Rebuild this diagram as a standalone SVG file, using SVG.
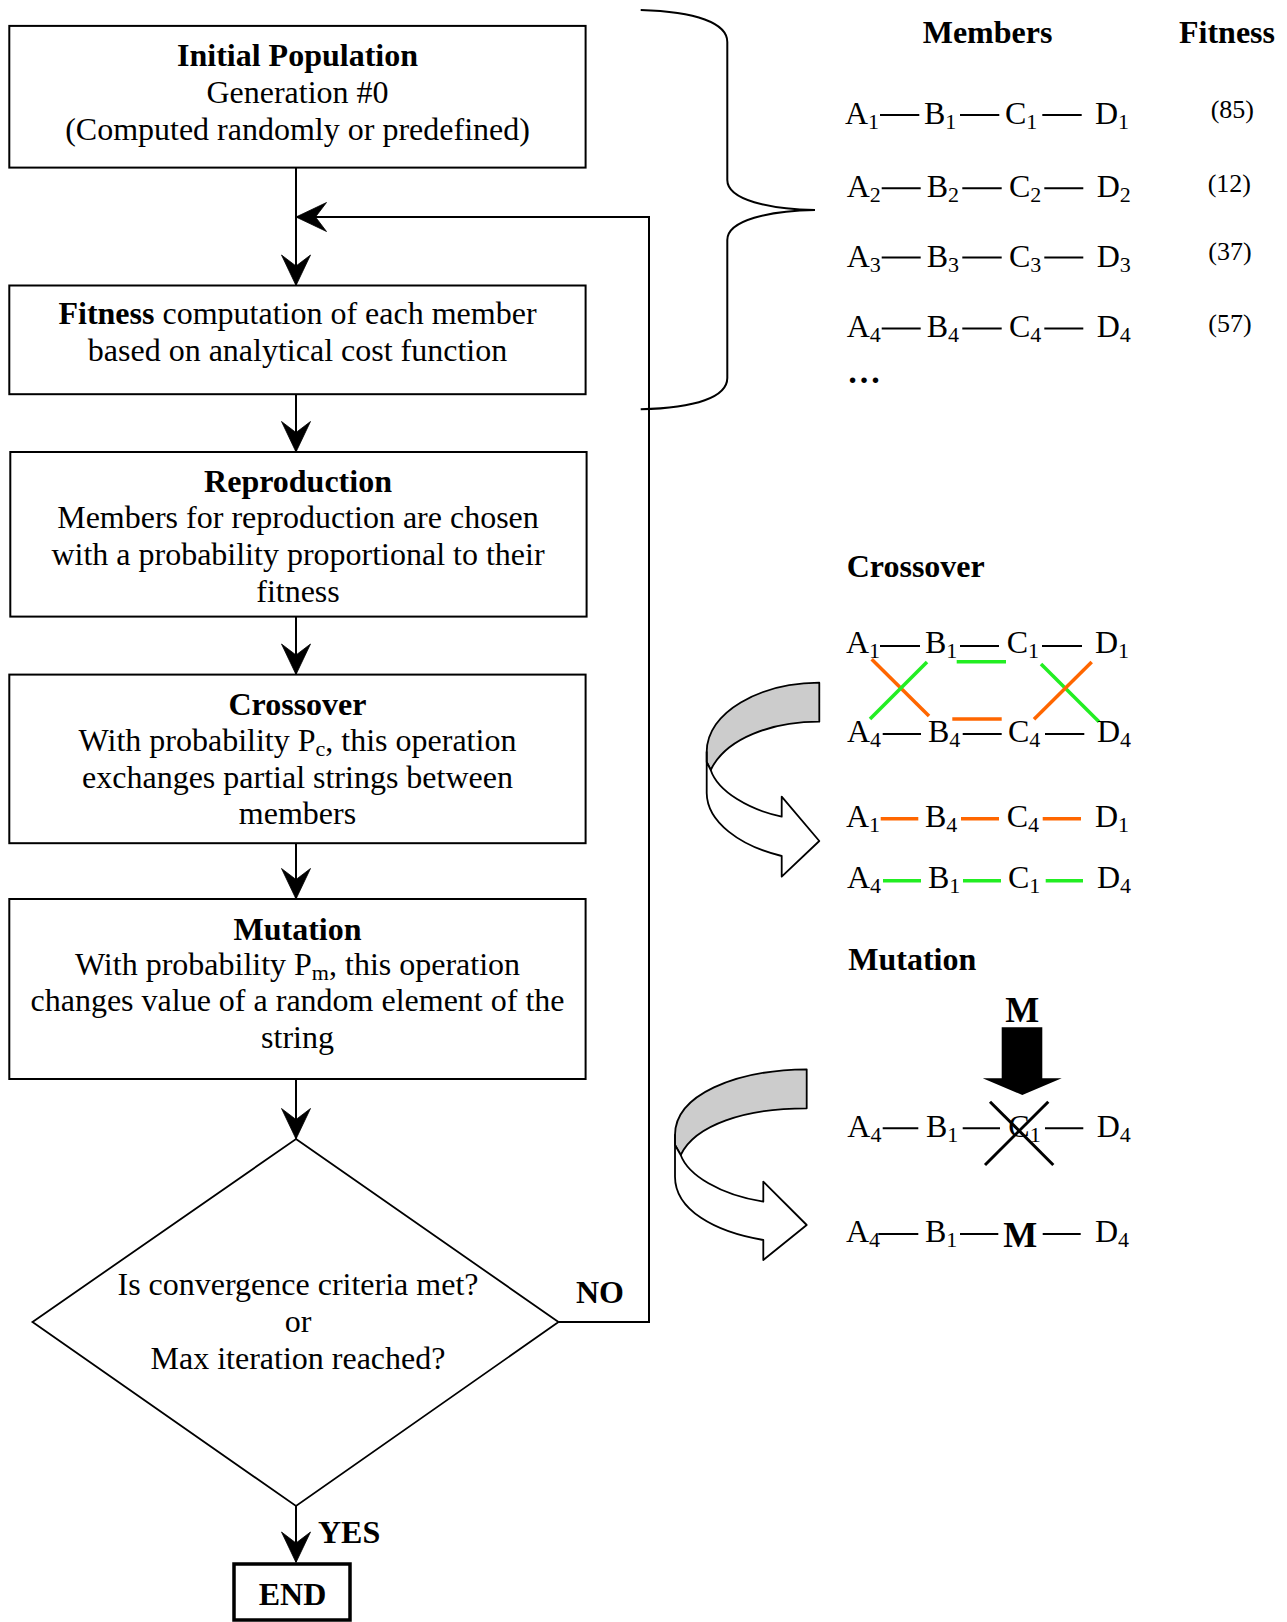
<svg xmlns="http://www.w3.org/2000/svg" xmlns:xlink="http://www.w3.org/1999/xlink" width="1287" height="1622" viewBox="0 0 1287 1622">
<style>
.t{font-family:"Liberation Serif","Times New Roman",serif;font-size:32px;fill:#000}
.b{font-weight:bold}
.sub{font-size:22px}
.fit{font-size:26px}
.box{fill:#fff;stroke:#000;stroke-width:2}
.ln{fill:none;stroke:#000;stroke-width:2}
.dash{stroke:#000;stroke-width:2}
.or{stroke:#FF6600;stroke-width:3.5}
.gr{stroke:#22EE22;stroke-width:3.5}
.ribbon{stroke:#000;stroke-width:1.8;stroke-linejoin:round}
</style>
<defs>
<marker id="arr" viewBox="-31 -16 32 32" refX="0" refY="0" markerWidth="32" markerHeight="32" markerUnits="userSpaceOnUse" orient="auto">
<path d="M0.5,0 L-30,-14.5 L-19,0 L-30,14.5 Z" fill="#000" stroke="#000" stroke-width="0.8" stroke-linejoin="miter"/>
</marker>
</defs>
<rect width="1287" height="1622" fill="#fff"/>

<g id="connectors">
<line class="ln" x1="296" y1="167.6" x2="296" y2="285" marker-end="url(#arr)"/>
<line class="ln" x1="296" y1="394.2" x2="296" y2="451.5" marker-end="url(#arr)"/>
<line class="ln" x1="296" y1="616.6" x2="296" y2="674" marker-end="url(#arr)"/>
<line class="ln" x1="296" y1="843.2" x2="296" y2="898.5" marker-end="url(#arr)"/>
<line class="ln" x1="296" y1="1079" x2="296" y2="1138.5" marker-end="url(#arr)"/>
<line class="ln" x1="296" y1="1506" x2="296" y2="1562" marker-end="url(#arr)"/>
<polyline class="ln" points="558.5,1322 649,1322 649,217 296.5,217" marker-end="url(#arr)"/>
<text class="t b" x="576" y="1303">NO</text>
<text class="t b" x="318" y="1543">YES</text>
</g>

<g id="initial">
<rect class="box" x="9.3" y="25.9" width="576.3" height="141.7"/>
<text class="t" text-anchor="middle" x="297.5" y="66"><tspan class="b">Initial Population</tspan></text>
<text class="t" text-anchor="middle" x="297.5" y="103">Generation #0</text>
<text class="t" text-anchor="middle" x="297.5" y="140">(Computed randomly or predefined)</text>
</g>

<g id="fitness">
<rect class="box" x="9.3" y="285.5" width="576.3" height="108.7"/>
<text class="t" text-anchor="middle" x="297.5" y="324"><tspan class="b">Fitness</tspan> computation of each member</text>
<text class="t" text-anchor="middle" x="297.5" y="361">based on analytical cost function</text>
</g>

<g id="reproduction">
<rect class="box" x="10.3" y="452" width="576.3" height="164.6"/>
<text class="t b" text-anchor="middle" x="298" y="492">Reproduction</text>
<text class="t" text-anchor="middle" x="298" y="528">Members for reproduction are chosen</text>
<text class="t" text-anchor="middle" x="298" y="565">with a probability proportional to their</text>
<text class="t" text-anchor="middle" x="298" y="602">fitness</text>
</g>

<g id="crossover">
<rect class="box" x="9.3" y="674.6" width="576.3" height="168.6"/>
<text class="t b" text-anchor="middle" x="297.5" y="715">Crossover</text>
<text class="t" text-anchor="middle" x="297.5" y="751">With probability P<tspan class="sub" dy="5">c</tspan><tspan dy="-5">, this operation</tspan></text>
<text class="t" text-anchor="middle" x="297.5" y="787.5">exchanges partial strings between</text>
<text class="t" text-anchor="middle" x="297.5" y="823.5">members</text>
</g>

<g id="mutation">
<rect class="box" x="9.3" y="899" width="576.3" height="180"/>
<text class="t b" text-anchor="middle" x="297.5" y="940">Mutation</text>
<text class="t" text-anchor="middle" x="297.5" y="975">With probability P<tspan class="sub" dy="5">m</tspan><tspan dy="-5">, this operation</tspan></text>
<text class="t" text-anchor="middle" x="297.5" y="1011">changes value of a random element of the</text>
<text class="t" text-anchor="middle" x="297.5" y="1047.5">string</text>
</g>

<g id="decision">
<polygon class="box" style="stroke-width:1.8" points="296,1139 558.5,1322 296,1506 32.5,1322"/>
<text class="t" text-anchor="middle" x="298" y="1295">Is convergence criteria met?</text>
<text class="t" text-anchor="middle" x="298" y="1332">or</text>
<text class="t" text-anchor="middle" x="298" y="1369">Max iteration reached?</text>
</g>

<g id="end">
<rect x="234" y="1564" width="116" height="56" fill="#fff" stroke="#000" stroke-width="3.5"/>
<text class="t b" text-anchor="middle" x="292.5" y="1605">END</text>
</g>

<g id="brace">
<path class="ln" d="M640.7,10 C696,11.7 727.3,23 727.3,42 L727.3,180 C727.3,200 770,209.3 815,210 C770,210.7 727.3,220 727.3,240 L727.3,378 C727.3,397 696,408 640.7,409.3"/>
</g>

<g id="members">
<text class="t b" x="922.7" y="42.7">Members</text>
<text class="t b" x="1179" y="42.7">Fitness</text>
<g>
<text class="t" x="845" y="124">A<tspan class="sub" dy="5">1</tspan></text>
<text class="t" x="924" y="124">B<tspan class="sub" dy="5">1</tspan></text>
<text class="t" x="1005" y="124">C<tspan class="sub" dy="5">1</tspan></text>
<text class="t" x="1095" y="124">D<tspan class="sub" dy="5">1</tspan></text>
<line class="dash" x1="880" y1="115" x2="919.3" y2="115"/>
<line class="dash" x1="960" y1="115" x2="999.3" y2="115"/>
<line class="dash" x1="1042.3" y1="115" x2="1081.7" y2="115"/>
<text class="t fit" x="1210.7" y="118.3">(85)</text>
</g>
<g>
<text class="t" x="846.7" y="196.7">A<tspan class="sub" dy="5">2</tspan></text>
<text class="t" x="926.7" y="196.7">B<tspan class="sub" dy="5">2</tspan></text>
<text class="t" x="1009" y="196.7">C<tspan class="sub" dy="5">2</tspan></text>
<text class="t" x="1096.7" y="196.7">D<tspan class="sub" dy="5">2</tspan></text>
<line class="dash" x1="881.7" y1="188.3" x2="920.7" y2="188.3"/>
<line class="dash" x1="962.3" y1="188.3" x2="1001.7" y2="188.3"/>
<line class="dash" x1="1044.3" y1="188.3" x2="1083.3" y2="188.3"/>
<text class="t fit" x="1207.7" y="191.7">(12)</text>
</g>
<g>
<text class="t" x="846.7" y="266.7">A<tspan class="sub" dy="5">3</tspan></text>
<text class="t" x="926.7" y="266.7">B<tspan class="sub" dy="5">3</tspan></text>
<text class="t" x="1009" y="266.7">C<tspan class="sub" dy="5">3</tspan></text>
<text class="t" x="1096.7" y="266.7">D<tspan class="sub" dy="5">3</tspan></text>
<line class="dash" x1="881.7" y1="257.5" x2="920.7" y2="257.5"/>
<line class="dash" x1="962.3" y1="257.5" x2="1001.7" y2="257.5"/>
<line class="dash" x1="1044.3" y1="257.5" x2="1083.3" y2="257.5"/>
<text class="t fit" x="1208.3" y="260">(37)</text>
</g>
<g>
<text class="t" x="846.7" y="337.3">A<tspan class="sub" dy="5">4</tspan></text>
<text class="t" x="926.7" y="337.3">B<tspan class="sub" dy="5">4</tspan></text>
<text class="t" x="1009" y="337.3">C<tspan class="sub" dy="5">4</tspan></text>
<text class="t" x="1096.7" y="337.3">D<tspan class="sub" dy="5">4</tspan></text>
<line class="dash" x1="881.7" y1="328.5" x2="920.7" y2="328.5"/>
<line class="dash" x1="962.3" y1="328.5" x2="1001.7" y2="328.5"/>
<line class="dash" x1="1044.3" y1="328.5" x2="1083.3" y2="328.5"/>
<text class="t fit" x="1208.3" y="331.7">(57)</text>
</g>
<text class="t b" x="847" y="383" style="font-size:34px">…</text>
</g>

<g id="crossover-example">
<text class="t b" x="846.7" y="577">Crossover</text>
<text class="t" x="846" y="653">A<tspan class="sub" dy="5">1</tspan></text>
<text class="t" x="925" y="653">B<tspan class="sub" dy="5">1</tspan></text>
<text class="t" x="1006.7" y="653">C<tspan class="sub" dy="5">1</tspan></text>
<text class="t" x="1095" y="653">D<tspan class="sub" dy="5">1</tspan></text>
<line class="dash" x1="880" y1="646" x2="920" y2="646"/>
<line class="dash" x1="960" y1="646" x2="999" y2="646"/>
<line class="dash" x1="1042" y1="646" x2="1082" y2="646"/>
<line class="gr" x1="956.7" y1="661.7" x2="1006" y2="661.7"/>
<line class="or" x1="871.7" y1="659.3" x2="929" y2="716"/>
<line class="gr" x1="870" y1="719" x2="927" y2="662"/>
<line class="gr" x1="1041" y1="664" x2="1099" y2="721.7"/>
<line class="or" x1="1091.7" y1="662" x2="1034" y2="719.3"/>
<line class="or" x1="952.3" y1="719" x2="1001.7" y2="719"/>
<text class="t" x="847" y="741.7">A<tspan class="sub" dy="5">4</tspan></text>
<text class="t" x="928" y="741.7">B<tspan class="sub" dy="5">4</tspan></text>
<text class="t" x="1008" y="741.7">C<tspan class="sub" dy="5">4</tspan></text>
<text class="t" x="1097" y="741.7">D<tspan class="sub" dy="5">4</tspan></text>
<line class="dash" x1="882.7" y1="734" x2="921" y2="734"/>
<line class="dash" x1="962.7" y1="734" x2="1001.7" y2="734"/>
<line class="dash" x1="1045" y1="734" x2="1084.3" y2="734"/>
<text class="t" x="846" y="826.7">A<tspan class="sub" dy="5">1</tspan></text>
<text class="t" x="925" y="826.7">B<tspan class="sub" dy="5">4</tspan></text>
<text class="t" x="1006.7" y="826.7">C<tspan class="sub" dy="5">4</tspan></text>
<text class="t" x="1095" y="826.7">D<tspan class="sub" dy="5">1</tspan></text>
<line class="or" x1="880.7" y1="818.7" x2="918.3" y2="818.7"/>
<line class="or" x1="961" y1="818.7" x2="999" y2="818.7"/>
<line class="or" x1="1042.7" y1="818.7" x2="1081" y2="818.7"/>
<text class="t" x="847" y="888.3">A<tspan class="sub" dy="5">4</tspan></text>
<text class="t" x="928" y="888.3">B<tspan class="sub" dy="5">1</tspan></text>
<text class="t" x="1008" y="888.3">C<tspan class="sub" dy="5">1</tspan></text>
<text class="t" x="1097" y="888.3">D<tspan class="sub" dy="5">4</tspan></text>
<line class="gr" x1="883" y1="880.7" x2="921" y2="880.7"/>
<line class="gr" x1="963" y1="880.7" x2="1001" y2="880.7"/>
<line class="gr" x1="1045.7" y1="880.7" x2="1083" y2="880.7"/>
<path class="ribbon" fill="#CCCCCC" d="M819.3,682.7 C760,683 706.7,712 706.7,752 L706.7,762 L710.7,770 C726,738 772,721.7 819.3,721.7 Z"/>
<path class="ribbon" fill="#FFFFFF" d="M706.7,752 L706.7,793 C707,822 740,846 781.7,856 L781.7,876.7 L819.3,841 L781.7,796.7 L781.7,816.7 C750,810 718,792 710.7,770 L706.7,762 Z"/>
</g>

<g id="mutation-example">
<text class="t b" x="848.3" y="970">Mutation</text>
<text class="t b" text-anchor="middle" x="1022.3" y="1021.7" style="font-size:36px">M</text>
<polygon fill="#000" points="1001.7,1027.3 1042.3,1027.3 1042.3,1078.3 1061.7,1078.3 1022.3,1095 982.7,1078.3 1001.7,1078.3"/>
<text class="t" x="847.3" y="1136.7">A<tspan class="sub" dy="5">4</tspan></text>
<text class="t" x="926" y="1136.7">B<tspan class="sub" dy="5">1</tspan></text>
<text class="t" x="1008.3" y="1136.7">C<tspan class="sub" dy="5">1</tspan></text>
<text class="t" x="1096.7" y="1136.7">D<tspan class="sub" dy="5">4</tspan></text>
<line class="dash" x1="882.7" y1="1128.3" x2="918.3" y2="1128.3"/>
<line class="dash" x1="962.7" y1="1128.3" x2="1000" y2="1128.3"/>
<line class="dash" x1="1045" y1="1128.3" x2="1083.3" y2="1128.3"/>
<line stroke="#000" stroke-width="3" x1="990" y1="1101.7" x2="1053.3" y2="1165"/>
<line stroke="#000" stroke-width="3" x1="1048.3" y1="1101.7" x2="985" y2="1165"/>
<text class="t" x="846" y="1241.7">A<tspan class="sub" dy="5">4</tspan></text>
<text class="t" x="925" y="1241.7">B<tspan class="sub" dy="5">1</tspan></text>
<text class="t b" x="1003.3" y="1247" style="font-size:36px">M</text>
<text class="t" x="1095" y="1241.7">D<tspan class="sub" dy="5">4</tspan></text>
<line class="dash" x1="878.3" y1="1234" x2="918.3" y2="1234"/>
<line class="dash" x1="960" y1="1234" x2="998.3" y2="1234"/>
<line class="dash" x1="1042.7" y1="1234" x2="1080.7" y2="1234"/>
<path class="ribbon" fill="#CCCCCC" d="M806.7,1069.3 C735,1070 675,1095 675,1135 L675,1145 L680.7,1155 C695,1125 745,1108.3 806.7,1108.3 Z"/>
<path class="ribbon" fill="#FFFFFF" d="M675,1135 L675,1176.7 C675,1210 715,1232 763.3,1240 L763.3,1260 L806.7,1225 L763.3,1181.7 L763.3,1201.7 C720,1195 688,1175 680.7,1155 L675,1145 Z"/>
</g>
</svg>
